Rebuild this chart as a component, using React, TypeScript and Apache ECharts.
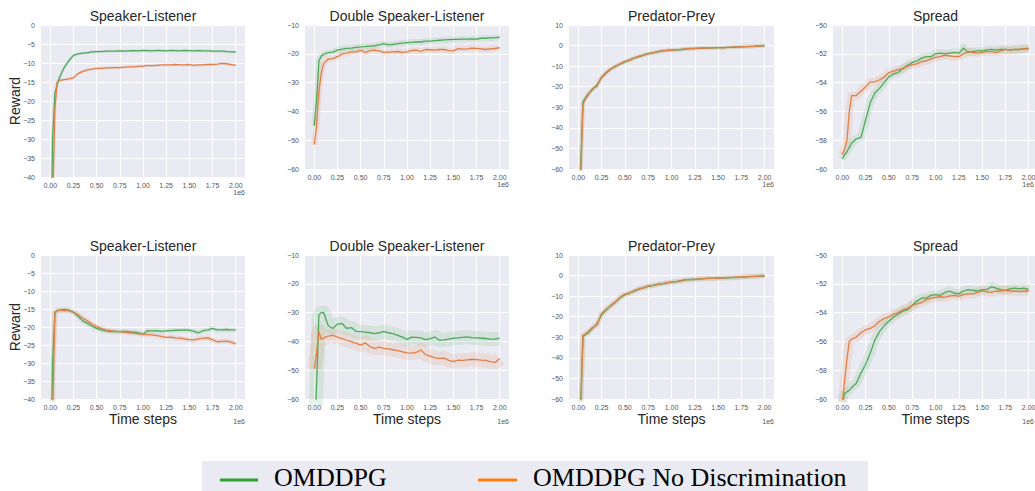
import React, { useEffect, useRef } from "react";
import * as echarts from "echarts";

// Time steps (units of 1e6)
const X = [0, 0.025, 0.05, 0.075, 0.1, 0.15, 0.2, 0.25, 0.3, 0.35, 0.4, 0.45, 0.5, 0.55, 0.6, 0.65, 0.7, 0.75, 0.8, 0.85, 0.9, 0.95, 1.0, 1.05, 1.1, 1.15, 1.2, 1.25, 1.3, 1.35, 1.4, 1.45, 1.5, 1.55, 1.6, 1.65, 1.7, 1.75, 1.8, 1.85, 1.9, 1.95, 2.0];
const X_TICKS = [0, 0.25, 0.5, 0.75, 1.0, 1.25, 1.5, 1.75, 2.0];

const TITLES = ["Speaker-Listener", "Double Speaker-Listener", "Predator-Prey", "Spread", "Speaker-Listener", "Double Speaker-Listener", "Predator-Prey", "Spread"];
const Y_MIN = [-40, -60, -60, -60, -40, -60, -60, -60];
const Y_MAX = [0, -10, 10, -50, 0, -10, 10, -50];
const Y_STEP = [5, 10, 10, 2, 5, 10, 10, 2];

const SERIES_NAMES = ["OMDDPG", "OMDDPG No Discrimination"];

// Top row
const SL1_GREEN = [-70, -30, -18, -15.6, -13.8, -11.2, -9.4, -8.0, -7.6, -7.4, -7.3, -7.1, -7.0, -7.0, -6.9, -6.9, -6.85, -6.8, -6.9, -6.8, -6.75, -6.8, -6.7, -6.75, -6.8, -6.7, -6.75, -6.8, -6.7, -6.75, -6.8, -6.7, -6.75, -6.8, -6.75, -6.8, -6.8, -6.9, -6.85, -6.9, -7.0, -7.05, -7.1];
const SL1_ORANGE = [-90, -48, -22, -15.0, -14.6, -14.4, -14.2, -13.9, -12.8, -12.2, -11.8, -11.6, -11.4, -11.4, -11.3, -11.3, -11.2, -11.2, -11.1, -11.0, -11.0, -10.9, -10.8, -10.7, -10.7, -10.6, -10.5, -10.5, -10.5, -10.4, -10.5, -10.5, -10.4, -10.6, -10.5, -10.5, -10.4, -10.4, -10.3, -10.1, -10.2, -10.4, -10.6];
const DSL1_GREEN = [-45, -36, -22.5, -20.8, -20.2, -19.6, -19.4, -18.7, -18.4, -18.1, -18.0, -17.8, -17.6, -17.5, -17.3, -17.2, -16.9, -16.5, -16.9, -16.7, -16.5, -16.3, -16.1, -16.0, -15.9, -15.9, -15.6, -15.6, -15.4, -15.3, -15.2, -15.1, -15.0, -15.0, -14.9, -14.9, -14.8, -14.9, -14.6, -14.6, -14.5, -14.4, -14.3];
const DSL1_ORANGE = [-51.5, -45, -33, -27, -23.5, -21.8, -21.7, -21.0, -20.0, -19.8, -19.3, -19.3, -18.8, -19.5, -18.9, -18.7, -19.0, -19.5, -19.4, -19.3, -19.2, -19.5, -19.3, -18.8, -18.7, -19.2, -18.5, -18.6, -18.7, -18.5, -18.5, -18.9, -19.0, -18.2, -18.4, -18.3, -18.0, -18.1, -18.3, -18.5, -18.3, -18.1, -17.9];
const PP1_GREEN = [-85, -60, -27.5, -25.5, -23.8, -21.5, -19.2, -15.5, -13.3, -11.4, -10.0, -9.0, -7.9, -7.0, -6.1, -5.4, -4.6, -3.9, -3.5, -3.1, -2.5, -2.4, -2.2, -2.1, -1.9, -1.7, -1.5, -1.4, -1.3, -1.2, -1.1, -1.1, -1.0, -1.0, -0.9, -0.8, -0.7, -0.6, -0.5, -0.4, -0.3, -0.15, 0.0];
const PP1_ORANGE = [-90, -64, -28.5, -26.0, -24.5, -21.0, -19.8, -15.3, -13.0, -11.2, -10.2, -8.8, -7.7, -7.2, -6.0, -5.2, -4.7, -4.0, -3.6, -3.0, -2.6, -2.3, -2.3, -2.0, -2.0, -1.6, -1.4, -1.5, -1.2, -1.2, -1.2, -1.0, -1.0, -1.1, -0.9, -0.8, -0.6, -0.6, -0.5, -0.5, -0.3, -0.2, 0.0];
const SP1_GREEN = [-59.3, -59.0, -58.8, -58.5, -58.2, -57.9, -57.8, -56.6, -55.4, -54.7, -54.4, -54.0, -53.6, -53.4, -53.3, -53.0, -52.8, -52.6, -52.5, -52.3, -52.2, -52.2, -52.0, -51.95, -52.0, -51.95, -51.9, -51.95, -51.6, -51.9, -51.85, -51.8, -51.8, -51.75, -51.7, -51.75, -51.7, -51.7, -51.75, -51.7, -51.7, -51.65, -51.65];
const SP1_ORANGE = [-59.0, -58.6, -58.0, -56.0, -54.9, -54.9, -54.6, -54.3, -53.95, -53.95, -53.8, -53.6, -53.3, -53.2, -53.1, -53.05, -52.85, -52.75, -52.7, -52.55, -52.5, -52.35, -52.25, -52.2, -52.1, -52.15, -52.2, -52.2, -52.0, -51.85, -51.9, -51.95, -51.9, -51.85, -51.85, -51.9, -51.8, -51.7, -51.75, -51.7, -51.7, -51.65, -51.6];

// Bottom row
const SL2_GREEN = [-70, -30, -16.0, -15.4, -15.3, -15.1, -15.3, -15.9, -17.0, -18.3, -19.0, -19.8, -20.4, -20.8, -21.1, -21.3, -21.2, -21.3, -21.2, -21.3, -21.4, -21.6, -22.0, -21.0, -21.1, -21.0, -21.2, -21.1, -21.0, -20.9, -20.9, -20.8, -20.9, -21.2, -21.6, -21.0, -20.8, -20.4, -20.8, -20.8, -20.7, -20.8, -20.8];
const SL2_ORANGE = [-90, -45, -16.0, -15.5, -15.4, -15.4, -15.5, -15.9, -16.6, -17.5, -18.3, -19.2, -19.9, -20.4, -20.8, -21.0, -21.2, -21.3, -21.4, -21.6, -21.7, -21.9, -22.0, -22.1, -22.2, -22.4, -22.6, -22.9, -22.8, -23.0, -23.1, -23.3, -23.5, -23.6, -23.3, -23.1, -23.0, -23.6, -24.1, -24.0, -23.9, -24.2, -24.7];
const DSL2_GREEN = [-75, -55, -30.8, -30.0, -29.9, -34.5, -35.5, -34.0, -33.8, -35.5, -35.2, -36.5, -36.6, -36.8, -37.0, -37.3, -37.0, -36.5, -37.0, -37.3, -37.9, -38.5, -39.3, -38.5, -38.6, -38.8, -39.4, -39.0, -38.5, -39.6, -39.5, -39.2, -38.9, -38.8, -38.6, -38.4, -38.7, -38.8, -38.9, -39.0, -39.2, -39.2, -38.9];
const DSL2_ORANGE = [-49.5, -44.0, -36.5, -39.3, -38.8, -38.2, -37.9, -38.5, -39.0, -39.6, -40.1, -40.6, -41.3, -40.5, -41.8, -42.4, -42.0, -42.4, -42.6, -42.9, -43.2, -43.6, -44.0, -44.1, -43.8, -43.0, -44.6, -45.1, -45.7, -45.9, -45.8, -46.6, -47.0, -46.5, -46.6, -46.4, -46.2, -46.3, -46.5, -46.6, -47.0, -47.3, -45.9];
const PP2_GREEN = [-90, -64, -29.5, -28.8, -28.0, -25.8, -23.5, -19.0, -16.7, -14.5, -12.9, -10.8, -9.4, -8.4, -7.6, -6.6, -6.0, -5.3, -4.8, -4.4, -4.0, -3.6, -3.2, -2.9, -2.6, -2.1, -1.9, -1.9, -1.7, -1.5, -1.4, -1.4, -1.3, -1.2, -1.1, -1.0, -0.9, -0.8, -0.6, -0.5, -0.4, -0.3, -0.1];
const PP2_ORANGE = [-95, -68, -29.0, -28.4, -27.6, -25.4, -24.0, -18.6, -16.4, -14.8, -12.6, -10.5, -9.0, -8.6, -7.3, -6.4, -6.0, -5.0, -4.9, -4.2, -3.9, -3.5, -3.1, -2.9, -2.5, -2.0, -2.0, -1.8, -1.6, -1.5, -1.3, -1.4, -1.2, -1.2, -1.0, -0.9, -0.8, -0.7, -0.6, -0.4, -0.4, -0.2, 0.0];
const SP2_GREEN = [-60.3, -59.6, -59.5, -59.4, -59.2, -58.9, -58.2, -57.6, -56.8, -55.9, -55.3, -54.9, -54.6, -54.3, -54.1, -53.9, -53.8, -53.5, -53.2, -53.0, -53.0, -52.8, -52.75, -52.8, -52.6, -52.5, -52.65, -52.7, -52.5, -52.4, -52.45, -52.5, -52.4, -52.4, -52.2, -52.3, -52.4, -52.45, -52.35, -52.3, -52.35, -52.3, -52.4];
const SP2_ORANGE = [-60.2, -58.7, -57.2, -56.0, -55.85, -55.7, -55.4, -55.2, -55.1, -54.9, -54.6, -54.4, -54.3, -54.1, -54.0, -53.8, -53.7, -53.5, -53.4, -53.3, -53.1, -53.0, -52.95, -52.9, -52.95, -52.85, -52.8, -52.85, -52.75, -52.7, -52.7, -52.6, -52.5, -52.55, -52.6, -52.5, -52.5, -52.45, -52.5, -52.5, -52.55, -52.5, -52.5];

const GREEN_DATA = [SL1_GREEN, DSL1_GREEN, PP1_GREEN, SP1_GREEN, SL2_GREEN, DSL2_GREEN, PP2_GREEN, SP2_GREEN];
const ORANGE_DATA = [SL1_ORANGE, DSL1_ORANGE, PP1_ORANGE, SP1_ORANGE, SL2_ORANGE, DSL2_ORANGE, PP2_ORANGE, SP2_ORANGE];

// layout: [left, top, width, height]
const LAYOUT = [
  [41, 25, 204, 152],
  [305, 25, 204, 144],
  [569, 25, 205, 144],
  [833, 25, 205, 144],
  [41, 255, 204, 144],
  [305, 255, 204, 144],
  [569, 255, 205, 144],
  [833, 255, 205, 144],
];
const BAND_W = [3, 6, 4, 8, 5, 14, 5, 9];

const LINE_GREEN = "#4fa95c";
const LINE_ORANGE = "#e07f48";
const LEG_GREEN = "#2ca02c";
const LEG_ORANGE = "#ff7f0e";
const SANS = "'Liberation Sans', Arial, sans-serif";
const SERIF = "'Liberation Serif', 'Times New Roman', serif";

const fmtY = (v: number) => String(v).replace("-", "\u2212");

export default function App() {
  const ref = useRef<HTMLDivElement>(null);
  useEffect(() => {
    if (!ref.current) return;
    const chart = echarts.init(ref.current, undefined, { renderer: "svg" });

    const grids = LAYOUT.map((g) => ({
      left: g[0], top: g[1], width: g[2], height: g[3],
      show: true, backgroundColor: "#EAEAF2", borderWidth: 0,
      containLabel: false, outerBoundsMode: "none",
    }));
    const xAxes = LAYOUT.map((_, i) => ({
      type: "value", gridIndex: i, min: -0.1, max: 2.1,
      axisLine: { show: false },
      axisTick: { show: false, customValues: X_TICKS },
      axisLabel: {
        customValues: X_TICKS, formatter: (v: number) => v.toFixed(2),
        fontSize: 7, color: "#555", margin: 5, fontFamily: SANS,
      },
      splitLine: { show: true, lineStyle: { color: "#ffffff", width: 1 } },
    }));
    const yAxes = LAYOUT.map((_, i) => ({
      type: "value", gridIndex: i, min: Y_MIN[i], max: Y_MAX[i], interval: Y_STEP[i],
      axisLine: { show: false }, axisTick: { show: false },
      axisLabel: { formatter: fmtY, fontSize: 7, color: "#555", margin: 6, fontFamily: SANS },
      splitLine: { show: true, lineStyle: { color: "#ffffff", width: 1 } },
    }));

    const series: any[] = [];
    LAYOUT.forEach((_, i) => {
      const g = X.map((x, k) => [x, GREEN_DATA[i][k]]);
      const o = X.map((x, k) => [x, ORANGE_DATA[i][k]]);
      series.push({ type: "line", name: SERIES_NAMES[0] + " band", xAxisIndex: i, yAxisIndex: i, data: g, showSymbol: false, symbol: "none", silent: true, lineStyle: { color: LINE_GREEN, width: BAND_W[i], opacity: 0.14, join: "round" }, z: 1 });
      series.push({ type: "line", name: SERIES_NAMES[1] + " band", xAxisIndex: i, yAxisIndex: i, data: o, showSymbol: false, symbol: "none", silent: true, lineStyle: { color: LINE_ORANGE, width: BAND_W[i], opacity: 0.14, join: "round" }, z: 1 });
      series.push({ type: "line", name: SERIES_NAMES[0], xAxisIndex: i, yAxisIndex: i, data: g, showSymbol: false, symbol: "none", lineStyle: { color: LINE_GREEN, width: 1.3 }, z: 2 });
      series.push({ type: "line", name: SERIES_NAMES[1], xAxisIndex: i, yAxisIndex: i, data: o, showSymbol: false, symbol: "none", lineStyle: { color: LINE_ORANGE, width: 1.3 }, z: 3 });
    });

    const labelStyle = (text: string, size: number, align: string) => ({
      text, align, verticalAlign: "middle", fontSize: size, fontFamily: SANS, fontWeight: "normal", fill: "#262626",
    });

    const graphics: any[] = [];
    LAYOUT.forEach((g, i) => {
      const cx = g[0] + g[2] / 2;
      const bottom = g[1] + g[3];
      graphics.push({ type: "text", x: cx, y: g[1] - 9, style: labelStyle(TITLES[i], 14, "center") });
      const offY = i < 4 ? bottom + 15 : bottom + 22;
      graphics.push({ type: "text", x: Math.min(g[0] + g[2], 1034), y: offY, style: { text: "1e6", align: "right", verticalAlign: "middle", fontSize: 7, fontFamily: SANS, fill: "#555" } });
      if (i >= 4) {
        graphics.push({ type: "text", x: cx, y: bottom + 20, style: labelStyle("Time steps", 14, "center") });
      }
      if (i === 0 || i === 4) {
        graphics.push({ type: "text", x: 15, y: g[1] + g[3] / 2, rotation: Math.PI / 2, style: labelStyle("Reward", 14, "center") });
      }
    });
    // legend
    graphics.push({ type: "rect", shape: { x: 202, y: 461, width: 666, height: 40 }, style: { fill: "#EAEAF2" } });
    graphics.push({ type: "line", shape: { x1: 220, y1: 480, x2: 258, y2: 480 }, style: { stroke: LEG_GREEN, lineWidth: 3 } });
    graphics.push({ type: "text", x: 274, y: 477, style: { text: SERIES_NAMES[0], align: "left", verticalAlign: "middle", fontSize: 26, fontFamily: SERIF, fontWeight: "normal", fill: "#000" } });
    graphics.push({ type: "line", shape: { x1: 478, y1: 480, x2: 517, y2: 480 }, style: { stroke: LEG_ORANGE, lineWidth: 3 } });
    graphics.push({ type: "text", x: 533, y: 477, style: { text: SERIES_NAMES[1], align: "left", verticalAlign: "middle", fontSize: 26, fontFamily: SERIF, fontWeight: "normal", fill: "#000" } });

    chart.setOption({
      animation: false,
      backgroundColor: "#ffffff",
      grid: grids,
      xAxis: xAxes,
      yAxis: yAxes,
      series,
      graphic: graphics,
    });
    return () => chart.dispose();
  }, []);
  return <div ref={ref} style={{ position: "absolute", left: 0, top: 0, width: 1035, height: 491 }} />;
}
